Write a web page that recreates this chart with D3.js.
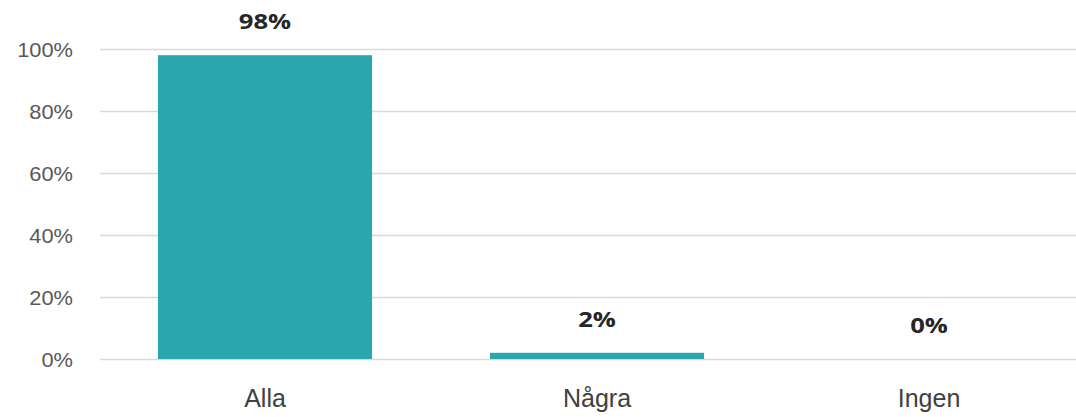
<!DOCTYPE html>
<html>
<head>
<meta charset="utf-8">
<script src="https://cdn.jsdelivr.net/npm/d3@7"></script>
<style>
  body { margin: 0; background: #ffffff; }
  svg { display: block; font-family: "Open Sans", sans-serif; }
</style>
</head>
<body>
<div class="bar-chart"></div>
<script>
var categories = ["Alla", "Några", "Ingen"]
var values = [98, 2, 0]
var valueLabels = ["98%", "2%", "0%"]
var yTicks = [0, 20, 40, 60, 80, 100]

var width = 1076, height = 417
var padding = { top: 49, right: -19, bottom: 58, left: 99 }

var svg = d3.select(".bar-chart")
            .append("svg")
            .attr("width", width)
            .attr("height", height)

var xScale = d3.scaleBand()
               .domain(categories)
               .range([padding.left, width - padding.right])
               .paddingInner(0.355)
               .paddingOuter(0.1775)
var yScale = d3.scaleLinear()
               .domain([0, 100])
               .range([height - padding.bottom, padding.top])

// gridlines + y labels (text in the picture is a bit wide, so stretch it)
var yAxis = d3.axisLeft(yScale)
              .tickValues(yTicks)
              .tickSize(-(width - padding.left))
              .tickFormat(function(d){ return d + "%" })
svg.append("g")
   .attr("class", "y-axis")
   .attr("transform", "translate(" + (padding.left + 1) + ",0)")
   .call(yAxis)
   .call(function(g){ g.select(".domain").remove() })
   .call(function(g){
     g.selectAll(".tick line").attr("stroke", "#d9d9d9").attr("stroke-width", 1.5)
     g.selectAll(".tick text")
      .attr("x", 0)
      .attr("dy", "0.36em")
      .attr("transform", "translate(-27,0) scale(1.12,1)")
      .style("fill", "#595959")
      .style("font-size", "19.5px")
   })

svg.selectAll(".bar")
   .data(values)
   .enter()
   .append("rect")
   .attr("class", "bar")
   .attr("x", function(d, i){ return xScale(categories[i]) })
   .attr("width", xScale.bandwidth())
   .attr("y", function(d){ return yScale(d) })
   .attr("height", function(d){ return yScale(0) - yScale(d) })
   .attr("fill", "#2aa6ad")

svg.selectAll(".value-label")
   .data(values)
   .enter()
   .append("text")
   .attr("class", "value-label")
   .text(function(d, i){ return valueLabels[i] })
   .attr("transform", function(d, i){
     return "translate(" + (xScale(categories[i]) + xScale.bandwidth() / 2) + "," + (yScale(d) - 26) + ") scale(1.22,1)"
   })
   .attr("text-anchor", "middle")
   .style("fill", "#262626")
   .style("font-weight", "bold")
   .style("font-size", "21px")

var xAxis = d3.axisBottom(xScale).tickSize(0)
svg.append("g")
   .attr("class", "x-axis")
   .attr("transform", "translate(0," + yScale(0) + ")")
   .call(xAxis)
   .call(function(g){ g.select(".domain").remove() })
   .call(function(g){
     g.selectAll(".tick text")
      .attr("y", 48)
      .attr("dy", 0)
      .style("fill", "#404040")
      .style("font-size", "25px")
   })
</script>
</body>
</html>
